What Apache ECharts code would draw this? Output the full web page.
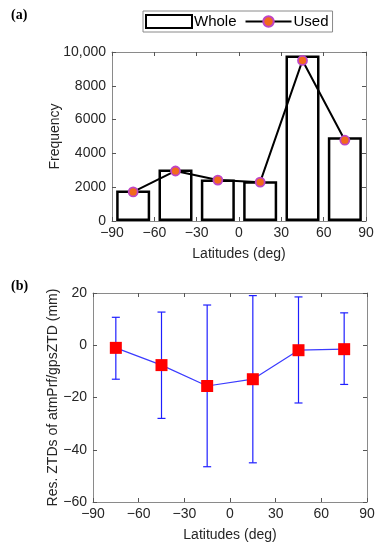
<!DOCTYPE html>
<html><head><meta charset="utf-8">
<script src="https://cdn.jsdelivr.net/npm/echarts@6/dist/echarts.min.js"></script>
<style>html,body{margin:0;padding:0;background:#fff}#c{width:381px;height:550px}</style>
</head><body><div id="c"></div>
<script>
var latitudes = [-75, -45, -15, 15, 45, 75];
var wholeFreq = [1800, 3050, 2450, 2350, 9800, 4950];
var usedFreq = [1720, 2960, 2420, 2300, 9500, 4780];
var resMean = [-1.0, -7.6, -15.6, -13.0, -1.9, -1.5];
var resUpper = [10.7, 12.7, 15.4, 19.0, 18.5, 12.4];
var resLower = [-13.0, -28.0, -46.5, -45.0, -22.1, -15.0];
var latTicks = [-90, -60, -30, 0, 30, 60, 90];

var FONT = 'Liberation Sans, Arial, sans-serif';
var FS = 14;
var AX = '#8a8a8a', TK = '#555';
function minusFmt(v){ return String(v).replace('-', '\u2212'); }
function xAxisCommon(gi, pos, show){
  return {type:'value', gridIndex:gi, position:pos, min:-90, max:90, interval:30,
    axisLine:{show:true, onZero:false, lineStyle:{color:AX, width:1}},
    axisTick:{show:true, inside:true, length:4, lineStyle:{color:TK}},
    axisLabel:{show:show, color:'#262626', fontSize:FS, fontFamily:FONT, margin:5, formatter:minusFmt},
    splitLine:{show:false}};
}
function yAxisCommon(gi, pos, min, max, iv, show){
  return {type:'value', gridIndex:gi, position:pos, min:min, max:max, interval:iv,
    axisLine:{show:true, onZero:false, lineStyle:{color:AX, width:1}},
    axisTick:{show:true, inside:true, length:4, lineStyle:{color:TK}},
    axisLabel:{show:show, color:'#262626', fontSize:FS, fontFamily:FONT, margin:6, formatter:minusFmt},
    splitLine:{show:false}};
}
var chart = echarts.init(document.getElementById('c'));
var y0 = yAxisCommon(0,'left',0,10000,2000,true);
y0.axisLabel.formatter = function(v){ return v===10000 ? '10,000' : String(v); };
y0.name = 'Frequency'; y0.nameLocation = 'middle'; y0.nameGap = 50; y0.nameMoveOverlap = false;
y0.nameTextStyle = {fontSize:FS, color:'#262626', fontFamily:FONT};
var y2 = yAxisCommon(1,'left',-60,20,20,true);
y2.name = 'Res. ZTDs of atmPrf/gpsZTD (mm)'; y2.nameLocation = 'middle'; y2.nameGap = 33; y2.nameMoveOverlap = false;
y2.nameTextStyle = {fontSize:FS, color:'#262626', fontFamily:FONT};
var xname = {name:'Latitudes (deg)', nameLocation:'middle', nameGap:26,
  nameTextStyle:{fontSize:FS, color:'#262626', fontFamily:FONT}};
var option = {
  animation:false,
  textStyle:{fontFamily:FONT},
  graphic:[
    {type:'text', left:11, top:8, style:{text:'(a)', font:'bold 14px "Liberation Serif", serif', fill:'#000'}},
    {type:'text', left:11, top:279, style:{text:'(b)', font:'bold 14px "Liberation Serif", serif', fill:'#000'}}
  ],
  legend:{
    left:143, top:11, width:189, height:21,
    padding:[3,4,3,2], itemGap:8, itemWidth:46, itemHeight:13,
    borderColor:'#8a8a8a', borderWidth:1,
    textStyle:{fontSize:15, color:'#000', fontFamily:FONT, padding:[0,0,0,-3]},
    data:[{name:'Whole', icon:'rect'}, {name:'Used'}]
  },
  grid:[
    {left:112, right:15, top:52, height:169},
    {left:93, right:14, top:293, height:209}
  ],
  xAxis:[
    Object.assign(xAxisCommon(0,'bottom',true), xname),
    xAxisCommon(0,'top',false),
    Object.assign(xAxisCommon(1,'bottom',true), xname),
    xAxisCommon(1,'top',false)
  ],
  yAxis:[
    y0,
    yAxisCommon(0,'right',0,10000,2000,false),
    y2,
    yAxisCommon(1,'right',-60,20,20,false)
  ],
  series:[
    {name:'Whole', type:'bar', xAxisIndex:0, yAxisIndex:0, barWidth:34,
      data:latitudes.map(function(x,i){return [x, wholeFreq[i]];}),
      itemStyle:{color:'#ffffff', borderColor:'#000', borderWidth:2.5}},
    {name:'Used', type:'line', xAxisIndex:0, yAxisIndex:0,
      data:latitudes.map(function(x,i){return [x, usedFreq[i]];}),
      lineStyle:{color:'#000', width:2}, symbol:'circle', symbolSize:9,
      itemStyle:{color:'#f26a1b', borderColor:'#bf45c4', borderWidth:1.8}, z:5},
    {name:'errbar', type:'custom', xAxisIndex:2, yAxisIndex:2,
      data:latitudes.map(function(x,i){return [x, resLower[i], resUpper[i]];}),
      renderItem:function(params, api){
        var x = api.value(0);
        var lo = api.coord([x, api.value(1)]);
        var hi = api.coord([x, api.value(2)]);
        var w = 4;
        var st = {stroke:'#1f1fff', lineWidth:1.2};
        return {type:'group', children:[
          {type:'line', shape:{x1:lo[0], y1:lo[1], x2:hi[0], y2:hi[1]}, style:st},
          {type:'line', shape:{x1:lo[0]-w, y1:lo[1], x2:lo[0]+w, y2:lo[1]}, style:st},
          {type:'line', shape:{x1:hi[0]-w, y1:hi[1], x2:hi[0]+w, y2:hi[1]}, style:st}
        ]};
      }, z:2},
    {name:'mean', type:'line', xAxisIndex:2, yAxisIndex:2,
      data:latitudes.map(function(x,i){return [x, resMean[i]];}),
      lineStyle:{color:'#3b3bff', width:1.2}, symbol:'rect', symbolSize:12,
      itemStyle:{color:'#ff0000'}, z:5}
  ]
};
chart.setOption(option);
</script></body></html>
